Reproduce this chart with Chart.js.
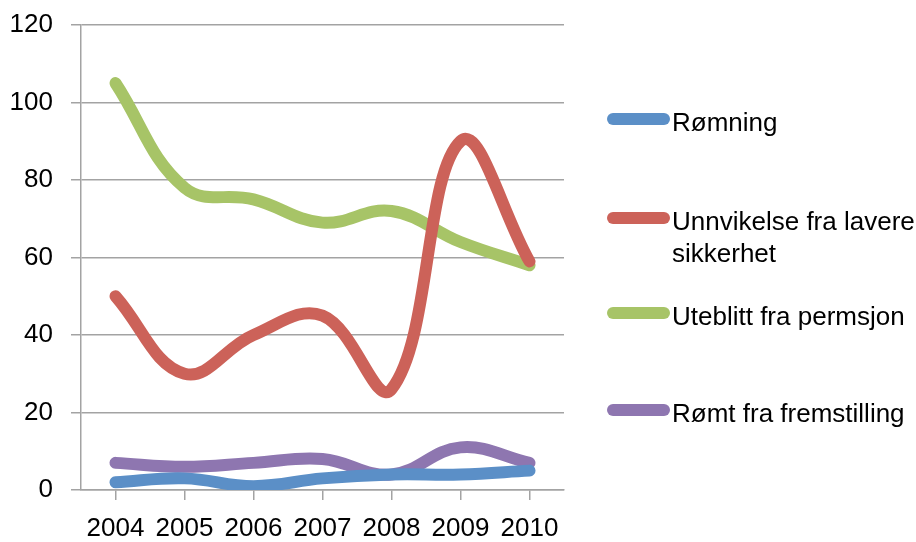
<!DOCTYPE html>
<html>
<head>
<meta charset="utf-8">
<script src="https://cdn.jsdelivr.net/npm/chart.js@4.4.1/dist/chart.umd.min.js"></script>
<style>
body{margin:0;background:#fff;}
#wrap{position:relative;width:916px;height:542px;}
#legend{position:absolute;left:607px;top:0;width:309px;height:542px;}
.item{position:absolute;left:0;}
.swatch{position:absolute;left:0;width:63px;height:12px;border-radius:6px;}
.label{position:absolute;left:65px;top:0;white-space:nowrap;color:#000;}
</style>
</head>
<body>
<div id="wrap">
<canvas id="chart" width="916" height="542"></canvas>
<div id="legend"></div>
</div>
<script>

// data
const years = ["2004","2005","2006","2007","2008","2009","2010"]

const romning = [2,3,1,3,4,4,5]
const unnvikelse = [50,30,40,45,26,90,59]
const uteblitt = [105,78,75,69,72,64,58]
const romtFremstilling = [7,6,7,8,4,11,7]

const seriesNames = ["Rømning","Unnvikelse fra lavere sikkerhet","Uteblitt fra permsjon","Rømt fra fremstilling"]

const yMin = 0
const yMax = 120
const yStep = 20


// pick a narrow font if it is installed
function hasFont(name){
const c = document.createElement("canvas").getContext("2d")
c.font = "30px monospace"
const w1 = c.measureText("2004 Rømning").width
c.font = "30px \"" + name + "\", monospace"
const w2 = c.measureText("2004 Rømning").width
return w1 !== w2
}

let family = "\"Liberation Sans\", Arial, sans-serif"
let size = 26
if(hasFont("Liberation Sans Narrow")){
family = "\"Liberation Sans Narrow\", \"Liberation Sans\", sans-serif"
size = 30
}

Chart.defaults.font.family = family
Chart.defaults.font.size = size
Chart.defaults.color = "#000"

const colors = ["#5b8fc7","#cc6259","#a7c467","#8e76b0"]
const values = [romning, unnvikelse, uteblitt, romtFremstilling]

const datasets = seriesNames.map((name,i) => ({
label: name,
data: values[i],
borderColor: colors[i],
backgroundColor: colors[i],
borderWidth: 12,
borderCapStyle: "round",
borderJoinStyle: "round",
pointRadius: 0,
tension: 0.4,
fill: false
}))

const gridColor = "#a3a3a3"

const ctx = document.getElementById("chart").getContext("2d")

const chart = new Chart(ctx,{
type:"line",
data:{
labels: years,
datasets: datasets
},
options:{
responsive:false,
animation:false,
layout:{
padding:{top:0,right:352,left:0,bottom:0}
},
plugins:{
legend:{display:false},
tooltip:{enabled:false}
},
scales:{
x:{
offset:true,
grid:{
drawOnChartArea:false,
drawTicks:true,
tickLength:10,
color:gridColor,
lineWidth:1.5
},
border:{color:gridColor,width:1.5},
ticks:{maxRotation:0,autoSkip:false,padding:13},
afterFit: s => { s.height = 52 }
},
y:{
min:yMin,
max:yMax,
grid:{
color:gridColor,
lineWidth:1.5,
tickLength:10
},
border:{color:gridColor,width:1.5},
ticks:{stepSize:yStep,padding:18},
afterFit: s => {
s.width = 81
s.paddingTop = 25
s.paddingBottom = 0
}
}
}
}
})


// legend built from the chart datasets
const legendTops = [106,205,300,397]
const legend = document.getElementById("legend")

chart.data.datasets.forEach((ds,i) => {
const item = document.createElement("div")
item.className = "item"
item.style.top = legendTops[i] + "px"
const sw = document.createElement("span")
sw.className = "swatch"
sw.style.background = ds.borderColor
sw.style.top = "7px"
const lab = document.createElement("div")
lab.className = "label"
lab.style.font = size + "px " + family
lab.style.lineHeight = "32px"
let text = ds.label
if(text === "Unnvikelse fra lavere sikkerhet"){
text = "Unnvikelse fra lavere<br>sikkerhet"
}
lab.innerHTML = text
item.appendChild(sw)
item.appendChild(lab)
legend.appendChild(item)
})

</script>
</body>
</html>
